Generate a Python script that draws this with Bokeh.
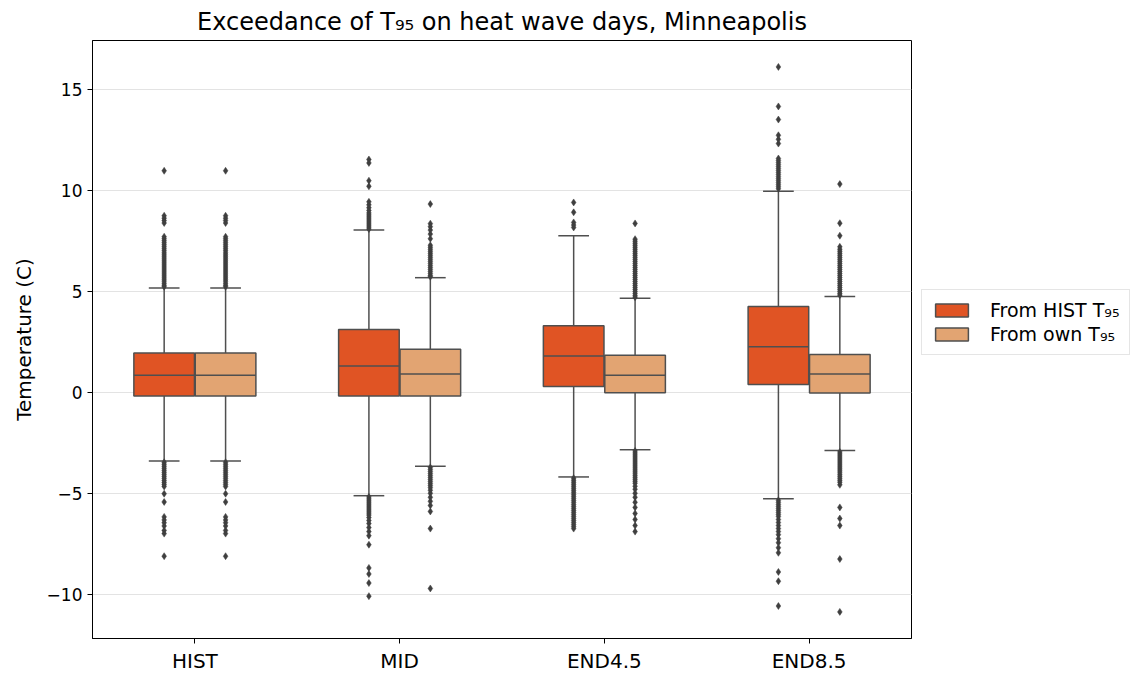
from bokeh.plotting import figure
from bokeh.models import (ColumnDataSource, FixedTicker, Legend, LegendItem, Range1d,
                          CustomJSTickFormatter)
from bokeh.embed import file_html
from bokeh.resources import INLINE

categories = ["HIST", "MID", "END4.5", "END8.5"]
series_labels = ["From HIST T\u2089\u2085", "From own T\u2089\u2085"]

# box statistics, "From HIST T95"
hist_q1 = [-0.18, -0.18, 0.30, 0.40]
hist_med = [0.85, 1.31, 1.81, 2.27]
hist_q3 = [1.96, 3.12, 3.31, 4.26]
hist_lo = [-3.40, -5.12, -4.19, -5.27]
hist_hi = [5.18, 8.05, 7.77, 9.98]

# box statistics, "From own T95"
own_q1 = [-0.18, -0.18, -0.02, -0.03]
own_med = [0.85, 0.92, 0.85, 0.91]
own_q3 = [1.96, 2.14, 1.85, 1.88]
own_lo = [-3.40, -3.66, -2.84, -2.88]
own_hi = [5.18, 5.69, 4.67, 4.76]

# outliers
hist_fliers = [
    [10.99, 8.76, 8.64, 8.52, 8.40, 7.72, 7.62, 7.52, 7.42, 7.32, 7.22, 7.12, 7.02, 6.92,
     6.82, 6.72, 6.62, 6.52, 6.42, 6.32, 6.22, 6.12, 6.02, 5.92, 5.82, 5.72, 5.62, 5.52,
     5.42, 5.32, 5.24,
     -3.46, -3.56, -3.66, -3.76, -3.86, -3.96, -4.06, -4.16, -4.26, -4.36, -4.46, -4.56,
     -4.66, -5.02, -5.43, -6.17, -6.32, -6.46, -6.62, -6.84, -7.0, -8.12],
    [11.55, 11.38, 10.5, 10.22, 9.45, 9.3, 9.16, 9.02, 8.9, 8.8, 8.7, 8.6, 8.5, 8.4, 8.3,
     8.2, 8.1,
     -5.18, -5.28, -5.38, -5.48, -5.58, -5.68, -5.78, -5.88, -5.98, -6.08, -6.2, -6.35,
     -6.5, -6.7, -6.9, -7.1, -7.55, -8.7, -9.0, -9.45, -10.1],
    [9.42, 8.93, 8.43, 8.3, 8.18,
     -4.25, -4.35, -4.45, -4.55, -4.65, -4.75, -4.85, -4.95, -5.05, -5.15, -5.25, -5.35,
     -5.45, -5.55, -5.65, -5.75, -5.85, -5.95, -6.05, -6.15, -6.25, -6.35, -6.45, -6.55,
     -6.65, -6.75],
    [16.14, 14.18, 13.53, 12.75, 12.55, 12.34, 11.6, 11.5, 11.4, 11.3, 11.2, 11.1, 11.0,
     10.9, 10.8, 10.7, 10.6, 10.5, 10.4, 10.3, 10.2, 10.1,
     -5.35, -5.45, -5.55, -5.65, -5.75, -5.85, -5.95, -6.05, -6.15, -6.3, -6.45, -6.6,
     -6.75, -6.9, -7.05, -7.25, -7.45, -7.7, -7.95, -8.9, -9.36, -10.59],
]
own_fliers = [
    [10.99, 8.76, 8.64, 8.52, 8.40, 7.72, 7.62, 7.52, 7.42, 7.32, 7.22, 7.12, 7.02, 6.92,
     6.82, 6.72, 6.62, 6.52, 6.42, 6.32, 6.22, 6.12, 6.02, 5.92, 5.82, 5.72, 5.62, 5.52,
     5.42, 5.32, 5.24,
     -3.46, -3.56, -3.66, -3.76, -3.86, -3.96, -4.06, -4.16, -4.26, -4.36, -4.46, -4.56,
     -4.66, -5.02, -5.43, -6.17, -6.32, -6.46, -6.62, -6.84, -7.0, -8.12],
    [9.34, 8.37, 8.22, 8.05, 7.85, 7.62, 7.3, 7.2, 7.1, 7.0, 6.9, 6.8, 6.7, 6.6, 6.5, 6.4,
     6.3, 6.2, 6.1, 6.0, 5.9, 5.8, 5.74,
     -3.72, -3.82, -3.92, -4.02, -4.12, -4.22, -4.32, -4.42, -4.52, -4.62, -4.72, -4.85,
     -5.0, -5.2, -5.4, -5.6, -5.9, -6.75, -9.72],
    [8.38, 7.6, 7.5, 7.4, 7.3, 7.2, 7.1, 7.0, 6.9, 6.8, 6.7, 6.6, 6.5, 6.4, 6.3, 6.2, 6.1,
     6.0, 5.9, 5.8, 5.7, 5.6, 5.5, 5.4, 5.3, 5.2, 5.1, 5.0, 4.9, 4.8, 4.72,
     -2.9, -3.0, -3.1, -3.2, -3.3, -3.4, -3.5, -3.6, -3.7, -3.8, -3.9, -4.0, -4.1, -4.2,
     -4.3, -4.4, -4.5, -4.65, -4.8, -5.0, -5.2, -5.45, -5.7, -6.0, -6.3, -6.6, -6.9],
    [10.33, 8.39, 7.77, 7.22, 7.1, 7.0, 6.9, 6.8, 6.7, 6.6, 6.5, 6.4, 6.3, 6.2, 6.1, 6.0,
     5.9, 5.8, 5.7, 5.6, 5.5, 5.4, 5.3, 5.2, 5.1, 5.0, 4.9, 4.82,
     -2.95, -3.05, -3.15, -3.25, -3.35, -3.45, -3.55, -3.65, -3.75, -3.85, -3.95, -4.05,
     -4.15, -4.25, -4.35, -4.45, -4.58, -5.7, -6.25, -6.6, -8.26, -10.88],
]

RED = "#E05424"
ORANGE = "#E2A472"
EDGE = "#4F4F4F"
FONT = "DejaVu Sans"

BOX_W = 0.296
OFFSET = 0.15
CAP = 0.075

p = figure(frame_width=819, frame_height=598, output_backend="svg", toolbar_location=None,
           x_range=Range1d(-0.5, 3.5), y_range=Range1d(-12.2, 17.45),
           min_border_left=92, min_border_right=228, min_border_top=40, min_border_bottom=38)
p.background_fill_color = "white"
p.border_fill_color = "white"
p.outline_line_color = "black"
p.outline_line_width = 1
p.xgrid.visible = False
p.ygrid.grid_line_color = "#E3E3E3"
p.ygrid.grid_line_width = 1

p.title.text = "Exceedance of T\u2089\u2085 on heat wave days, Minneapolis"
p.title.text_font = FONT
p.title.text_font_size = "24px"
p.title.text_font_style = "normal"
p.title.align = "center"
p.title.text_color = "black"
p.title.standoff = 10

renderers = []
for q1, med, q3, lo, hi, fl, off, color in [
        (hist_q1, hist_med, hist_q3, hist_lo, hist_hi, hist_fliers, -OFFSET, RED),
        (own_q1, own_med, own_q3, own_lo, own_hi, own_fliers, OFFSET, ORANGE)]:
    xs = [i + off for i in range(len(categories))]
    src = ColumnDataSource(dict(x=xs, q1=q1, med=med, q3=q3, lo=lo, hi=hi,
                                xl=[x - BOX_W / 2 for x in xs], xr=[x + BOX_W / 2 for x in xs],
                                cl=[x - CAP for x in xs], cr=[x + CAP for x in xs]))
    p.segment(x0="x", y0="q3", x1="x", y1="hi", source=src, line_color=EDGE, line_width=1.5)
    p.segment(x0="x", y0="lo", x1="x", y1="q1", source=src, line_color=EDGE, line_width=1.5)
    p.segment(x0="cl", y0="hi", x1="cr", y1="hi", source=src, line_color=EDGE, line_width=1.5)
    p.segment(x0="cl", y0="lo", x1="cr", y1="lo", source=src, line_color=EDGE, line_width=1.5)
    r = p.vbar(x="x", width=BOX_W, bottom="q1", top="q3", source=src, fill_color=color,
               line_color=EDGE, line_width=1.5)
    renderers.append(r)
    p.segment(x0="xl", y0="med", x1="xr", y1="med", source=src, line_color=EDGE, line_width=1.5)
    fx, fy = [], []
    for i, vals in enumerate(fl):
        fx += [i + off] * len(vals)
        fy += vals
    p.scatter(x=fx, y=fy, marker="diamond", size=7, fill_color="#3F3F3F",
              line_color="#3F3F3F", line_width=0.5)

p.xaxis.ticker = FixedTicker(ticks=list(range(len(categories))))
p.xaxis.formatter = CustomJSTickFormatter(args=dict(labels=categories),
                                          code="return labels[Math.round(tick)]")
p.yaxis.ticker = FixedTicker(ticks=[-10, -5, 0, 5, 10, 15])
p.yaxis.formatter = CustomJSTickFormatter(
    code="return tick < 0 ? '\u2212' + Math.abs(tick) : tick.toString()")
for ax in (p.xaxis[0], p.yaxis[0]):
    ax.axis_line_color = "black"
    ax.major_tick_line_color = "black"
    ax.major_tick_out = 5
    ax.major_tick_in = 0
    ax.minor_tick_line_color = None
    ax.major_label_text_font = FONT
    ax.major_label_text_color = "black"
    ax.axis_label_text_font = FONT
    ax.axis_label_text_font_style = "normal"
    ax.axis_label_text_color = "black"
p.xaxis.major_label_text_font_size = "20px"
p.yaxis.major_label_text_font_size = "17px"
p.yaxis.axis_label = "Temperature (C)"
p.yaxis.axis_label_text_font_size = "20px"
p.yaxis.axis_label_standoff = 8

legend = Legend(items=[LegendItem(label=series_labels[0], renderers=[renderers[0]]),
                       LegendItem(label=series_labels[1], renderers=[renderers[1]])],
                location=(10, 283), orientation="vertical",
                label_text_font=FONT, label_text_font_size="19px", label_text_color="black",
                glyph_width=41, glyph_height=16, spacing=2, padding=9, margin=0,
                label_standoff=18, label_height=22, border_line_color="#CCCCCC",
                border_line_width=1, background_fill_alpha=1)
p.add_layout(legend, "right")

open("out.html", "w").write(file_html(p, INLINE))
